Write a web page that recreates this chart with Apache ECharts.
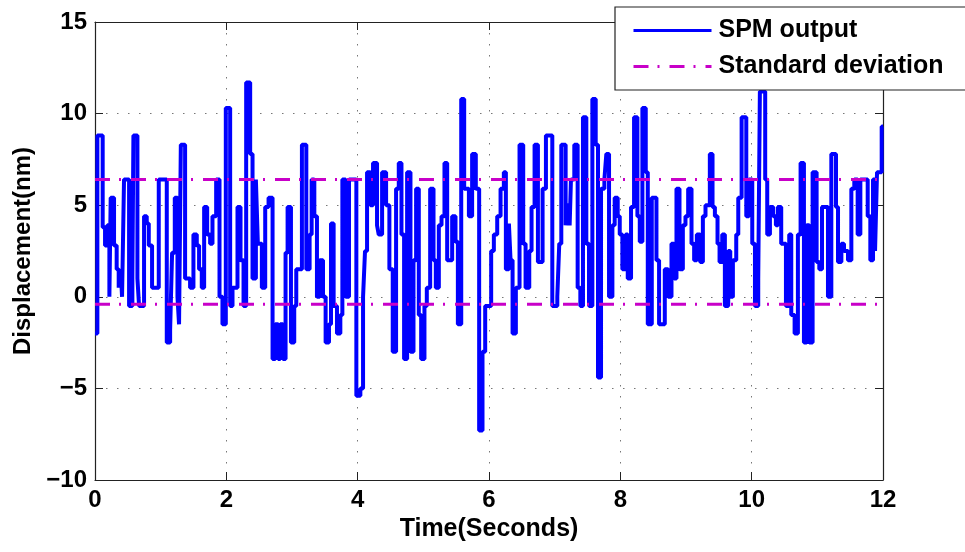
<!DOCTYPE html>
<html>
<head>
<meta charset="utf-8">
<script src="https://cdn.jsdelivr.net/npm/echarts@6/dist/echarts.min.js"></script>
<style>
  html, body { margin: 0; padding: 0; background: #fff; }
  #chart { width: 965px; height: 552px; }
</style>
</head>
<body>
<div id="chart"></div>
<script>
// step start times (s) and held displacement (nm)
const times = [
  0.000, 0.036, 0.117, 0.153, 0.188, 0.219, 0.239, 0.290, 0.330, 0.361, 0.391, 0.412, 0.442, 0.519, 0.569, 0.585,
  0.646, 0.671, 0.747, 0.788, 0.819, 0.869, 0.971, 1.093, 1.144, 1.174, 1.215, 1.256, 1.280, 1.307, 1.372, 1.448,
  1.499, 1.550, 1.585, 1.626, 1.662, 1.708, 1.753, 1.789, 1.845, 1.896, 1.941, 1.992, 2.058, 2.094, 2.170, 2.216,
  2.262, 2.302, 2.363, 2.399, 2.450, 2.480, 2.541, 2.592, 2.643, 2.704, 2.745, 2.790, 2.821, 2.862, 2.902, 2.933,
  2.984, 3.034, 3.065, 3.151, 3.218, 3.268, 3.299, 3.340, 3.380, 3.421, 3.472, 3.512, 3.563, 3.594, 3.634, 3.685,
  3.736, 3.767, 3.817, 3.868, 3.980, 4.041, 4.082, 4.112, 4.143, 4.194, 4.234, 4.295, 4.321, 4.372, 4.433, 4.483,
  4.534, 4.585, 4.626, 4.667, 4.707, 4.753, 4.804, 4.850, 4.890, 4.931, 4.967, 5.017, 5.053, 5.104, 5.155, 5.190,
  5.236, 5.277, 5.322, 5.363, 5.439, 5.490, 5.526, 5.577, 5.622, 5.694, 5.743, 5.799, 5.850, 5.901, 5.942, 6.033,
  6.074, 6.125, 6.176, 6.226, 6.257, 6.303, 6.328, 6.359, 6.409, 6.465, 6.521, 6.557, 6.613, 6.648, 6.694, 6.745,
  6.816, 6.867, 6.964, 7.040, 7.070, 7.101, 7.167, 7.192, 7.228, 7.248, 7.299, 7.350, 7.391, 7.431, 7.482, 7.523,
  7.574, 7.625, 7.660, 7.706, 7.757, 7.787, 7.828, 7.879, 7.914, 7.960, 7.991, 8.031, 8.082, 8.113, 8.163, 8.209,
  8.260, 8.296, 8.336, 8.387, 8.418, 8.479, 8.550, 8.590, 8.677, 8.728, 8.779, 8.819, 8.855, 8.901, 8.952, 8.992,
  9.033, 9.084, 9.124, 9.165, 9.216, 9.257, 9.297, 9.363, 9.404, 9.440, 9.480, 9.511, 9.552, 9.592, 9.643, 9.674,
  9.714, 9.765, 9.796, 9.847, 9.918, 9.958, 10.009, 10.050, 10.100, 10.125, 10.206, 10.237, 10.278, 10.328, 10.369, 10.400,
  10.450, 10.522, 10.572, 10.603, 10.654, 10.704, 10.745, 10.796, 10.837, 10.877, 10.928, 10.989, 11.030, 11.071, 11.162, 11.213,
  11.284, 11.315, 11.366, 11.406, 11.467, 11.518, 11.563, 11.614, 11.655, 11.767, 11.807, 11.848, 11.879, 11.909, 11.980, 12.000
]
const spmOutput = [
  -2.0, 8.8, 3.8, 2.8, 3.9, 0.0, 5.4, 2.8, 1.5, 0.5, 1.5, 0.0, 6.4, -0.5, 1.0, 8.8,
  1.0, -0.5, 4.4, 4.0, 2.8, 0.5, 6.4, -2.5, -1.8, 2.4, 5.4, 0.0, -1.5, 8.3, 1.0, 0.5,
  3.4, 2.8, 1.5, 0.5, 4.9, 3.4, 2.9, 4.4, 6.4, 0.0, -1.5, 10.3, -0.5, 0.5, 4.9, 2.0,
  -0.5, 11.7, 7.8, 1.0, 6.4, 2.9, 0.5, 4.9, 5.4, -3.4, -1.5, -3.4, -1.5, -3.4, 2.4, 4.9,
  -2.5, -0.5, 1.5, 8.3, 1.5, 3.4, 6.4, 4.4, 0.0, 2.0, 0.0, -2.5, -1.5, 4.0, -0.5, -2.0,
  -1.0, 6.4, 0.0, 6.4, -5.4, -5.0, 0.0, 2.5, 6.8, 5.0, 7.3, 3.9, 3.4, 6.8, 5.0, 1.5,
  -3.0, 5.9, 7.3, 3.4, -3.4, 6.8, -3.0, 2.0, 5.9, -1.0, -3.4, -0.5, 0.5, 5.9, 2.0, 0.5,
  3.9, 4.4, 7.3, 2.0, 4.4, 3.0, -1.5, 10.8, 5.9, 4.4, 7.8, 5.9, -7.3, -3.0, -0.5, 2.5,
  3.4, 4.4, 5.9, 6.8, 1.5, 4.0, 2.0, -2.0, 0.5, 8.3, 2.9, 0.5, 2.5, 4.9, 8.3, 1.9,
  5.9, 8.8, -0.5, 0.0, 2.9, 8.3, 3.9, 5.0, 3.9, 6.4, 8.3, 0.5, -0.5, 9.8, 2.9, -0.5,
  10.8, 8.3, -4.4, 5.9, 6.4, 7.8, 0.0, 3.9, 5.4, 4.4, 3.4, 1.5, 3.4, 1.0, 4.9, 9.8,
  4.4, 3.0, 10.3, 6.8, -1.5, 5.4, 2.0, -1.5, 1.5, 0.0, 2.9, 1.0, 5.9, 1.5, 3.9, 4.4,
  5.9, 2.9, 2.0, 3.4, 1.9, 4.4, 5.0, 7.8, 4.9, 4.4, 2.9, 1.9, 3.4, -0.5, 2.5, 0.0,
  2.0, 3.4, 5.4, 9.8, 4.4, 6.4, 2.9, -0.5, 1.0, 11.2, 6.4, 3.4, 4.9, 4.4, 3.9, 4.9,
  2.9, -0.5, 3.4, -1.0, -2.0, 3.4, 7.3, -2.5, 3.9, -2.5, 6.8, 1.9, 1.5, 4.9, 0.0, 7.8,
  4.9, 1.9, 2.9, 2.5, 2.0, 5.9, 6.4, 3.4, 6.4, 4.4, 2.0, 6.4, 2.5, 6.8, 9.3, 9.3
]
const stdUpper = 6.4
const stdLower = -0.4
const xTicks = [0, 2, 4, 6, 8, 10, 12]
const yTicks = [-10, -5, 0, 5, 10, 15]

const font = 'Liberation Sans, Arial, Helvetica, sans-serif'
const dotted = { color: '#777', width: 1, type: [1.5, 9.5] }
const dashDot = [15, 9, 2, 10]

let chart = echarts.init(document.getElementById('chart'), null, { renderer: 'canvas' })

// MATLAB style minus sign on tick labels
const tickText = v => (v < 0 ? '\u2212' + Math.abs(v) : String(v))

const axisCommon = {
  type: 'value',
  axisLine: { show: true, onZero: false, lineStyle: { color: '#222', width: 1.2 } },
  axisTick: { show: true, inside: true, length: 8, lineStyle: { color: '#222' } },
  axisLabel: { color: '#000', fontSize: 24, fontWeight: 'bold', fontFamily: font, margin: 8, formatter: tickText }
}

let option = {
  backgroundColor: '#fff',
  animation: false,
  grid: { left: 95, right: 82, top: 22, bottom: 72, show: false },
  legend: {
    left: 615,
    top: 7,
    orient: 'vertical',
    backgroundColor: '#fff',
    borderColor: '#222',
    borderWidth: 1.2,
    padding: [11, 90, 11, 17],
    itemGap: 11,
    itemWidth: 78,
    itemHeight: 14,
    itemStyle: { opacity: 0 },
    lineStyle: { width: 3 },
    textStyle: { color: '#000', fontSize: 25, fontWeight: 'bold', fontFamily: font, padding: [0, 0, 0, 2] },
    data: ['SPM output', 'Standard deviation']
  },
  xAxis: [
    Object.assign({}, axisCommon, {
      min: xTicks[0], max: xTicks[xTicks.length - 1], interval: 2,
      name: 'Time(Seconds)', nameLocation: 'middle', nameGap: 36,
      nameTextStyle: { color: '#000', fontSize: 25, fontWeight: 'bold', fontFamily: font },
      splitLine: { show: true, lineStyle: dotted }
    }),
    Object.assign({}, axisCommon, {
      position: 'top', min: xTicks[0], max: xTicks[xTicks.length - 1], interval: 2,
      axisLabel: { show: false }, splitLine: { show: false }
    })
  ],
  yAxis: [
    Object.assign({}, axisCommon, {
      min: yTicks[0], max: yTicks[yTicks.length - 1], interval: 5,
      name: 'Displacement(nm)', nameLocation: 'middle', nameGap: 54,
      nameTextStyle: { color: '#000', fontSize: 24, fontWeight: 'bold', fontFamily: font },
      splitLine: { show: true, lineStyle: dotted }
    }),
    Object.assign({}, axisCommon, {
      position: 'right', min: yTicks[0], max: yTicks[yTicks.length - 1], interval: 5,
      axisLabel: { show: false }, splitLine: { show: false }
    })
  ],
  series: [
    {
      name: 'SPM output',
      type: 'line',
      step: 'end',
      symbol: 'none',
      color: '#0000ff',
      lineStyle: { color: '#0000ff', width: 4 },
      data: times.map((t, i) => [t, spmOutput[i]])
    },
    {
      name: 'Standard deviation',
      type: 'line',
      symbol: 'none',
      color: '#c800c8',
      lineStyle: { color: '#c800c8', width: 3, type: dashDot },
      data: [[xTicks[0], stdUpper], [xTicks[xTicks.length - 1], stdUpper]]
    },
    {
      name: 'Standard deviation',
      type: 'line',
      symbol: 'none',
      color: '#c800c8',
      lineStyle: { color: '#c800c8', width: 3, type: dashDot },
      data: [[xTicks[0], stdLower], [xTicks[xTicks.length - 1], stdLower]]
    }
  ]
}

chart.setOption(option)
</script>
</body>
</html>
